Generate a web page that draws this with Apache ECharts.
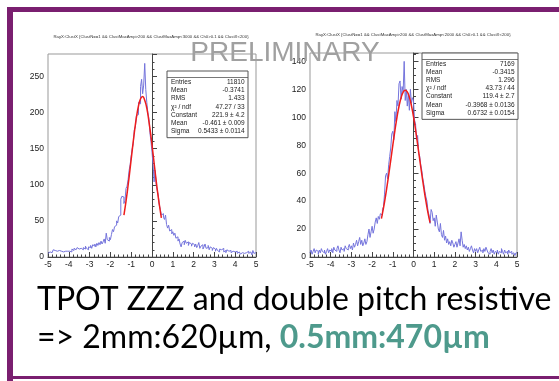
<!DOCTYPE html>
<html>
<head>
<meta charset="utf-8">
<script src="https://cdn.jsdelivr.net/npm/echarts@6/dist/echarts.min.js"></script>
<style>
  html, body { margin: 0; padding: 0; background: #fff; }
  #chart { width: 559px; height: 381px; }
</style>
</head>
<body>
<div id="chart"></div>
<script>
// bins of 0.05 from -5 to 5 (200 bins each)
const leftCounts = [
  5, 7, 9, 6, 8, 10, 9, 7, 8, 6, 9, 7, 8, 10, 7, 9, 8, 6, 8, 9,
  8, 10, 7, 11, 9, 12, 10, 8, 13, 11, 9, 12, 14, 10, 13, 11, 15, 12, 10, 14,
  13, 16, 12, 17, 15, 18, 14, 19, 16, 20, 17, 22, 18, 21, 25, 19, 33, 24, 22, 27,
  24, 31, 38, 35, 42, 44, 50, 47, 56, 58, 80, 84, 83, 74, 78, 95, 98, 107, 120, 128,
  140, 150, 157, 176, 180, 196, 197, 214, 212, 236, 246, 226, 238, 268, 232, 214, 200, 192, 172, 160,
  145, 128, 104, 120, 100, 92, 86, 72, 66, 58, 60, 55, 52, 58, 45, 40, 44, 36, 38, 32,
  35, 30, 33, 26, 28, 22, 25, 18, 14, 20, 22, 17, 23, 19, 21, 16, 20, 18, 15, 19,
  17, 14, 18, 13, 16, 20, 12, 15, 17, 11, 14, 18, 12, 13, 16, 10, 14, 12, 9, 13,
  11, 8, 12, 9, 7, 11, 10, 8, 12, 7, 9, 6, 10, 8, 7, 9, 6, 8, 10, 7,
  6, 8, 5, 7, 9, 4, 6, 8, 5, 7, 6, 4, 8, 5, 7, 6, 3, 9, 5, 6
];
const rightCounts = [
  3, 5, 2, 4, 6, 3, 5, 4, 2, 5, 3, 6, 4, 3, 5, 2, 4, 6, 3, 5,
  4, 6, 3, 7, 5, 4, 6, 8, 5, 3, 7, 5, 6, 4, 8, 6, 5, 7, 9, 6,
  8, 5, 10, 7, 9, 12, 8, 11, 14, 9, 12, 8, 10, 13, 9, 11, 16, 20, 14, 18,
  22, 17, 20, 25, 28, 24, 29, 27, 31, 30, 34, 36, 45, 58, 60, 56, 66, 72, 78, 88,
  90, 84, 104, 97, 112, 108, 124, 126, 113, 122, 118, 140, 112, 120, 108, 117, 105, 120, 110, 114,
  112, 98, 95, 84, 87, 74, 72, 66, 62, 56, 52, 47, 43, 40, 33, 30, 24, 34, 32, 26,
  28, 22, 30, 25, 20, 18, 24, 16, 14, 19, 12, 15, 10, 13, 9, 11, 8, 12, 10, 7,
  9, 11, 7, 10, 13, 8, 18, 12, 7, 9, 6, 8, 5, 7, 4, 6, 8, 5, 3, 6,
  4, 6, 3, 5, 7, 4, 5, 3, 6, 4, 7, 5, 3, 2, 4, 6, 3, 5, 2, 4,
  3, 5, 2, 4, 3, 6, 4, 2, 5, 3, 4, 2, 5, 3, 4, 2, 3, 4, 1, 3
];

// red fit curves
const leftFitX = [-1.35, -1.25, -1.15, -1.05, -0.95, -0.85, -0.75, -0.65, -0.55, -0.45, -0.35, -0.25, -0.15, -0.05, 0.05, 0.15, 0.25, 0.35, 0.45];
const leftFitY = [58, 77, 99, 123, 148, 172, 193, 209, 219, 222, 217, 206, 188, 167, 143, 118, 94, 73, 54];
const rightFitX = [-1.55, -1.5, -1.4, -1.3, -1.2, -1.1, -1.0, -0.9, -0.8, -0.7, -0.6, -0.5, -0.4, -0.3, -0.2, -0.1, 0, 0.1, 0.2, 0.3, 0.4, 0.5, 0.6, 0.7, 0.8];
const rightFitY = [27.5, 31.2, 39.3, 48.5, 58.6, 69.2, 79.9, 90.3, 99.8, 107.9, 114, 118, 119.4, 118.2, 114.4, 108.4, 100.4, 90.9, 80.6, 69.9, 59.3, 49.2, 39.9, 31.6, 24.6];

const leftStatNames = ['Entries', 'Mean', 'RMS', 'χ² / ndf', 'Constant', 'Mean', 'Sigma'];
const leftStatValues = ['11810', '-0.3741', '1.433', '47.27 / 33', '221.9 ± 4.2', '-0.461 ± 0.009', '0.5433 ± 0.0114'];
const rightStatNames = ['Entries', 'Mean', 'RMS', 'χ² / ndf', 'Constant', 'Mean', 'Sigma'];
const rightStatValues = ['7169', '-0.3415', '1.296', '43.73 / 44', '119.4 ± 2.7', '-0.3968 ± 0.0136', '0.6732 ± 0.0154'];

const leftTitle = 'RayX:ClustX {ClustN==1 && ClustMaxAmp>200 && ClustMaxAmp<3000 && Ch0>0.1 && ClustX<200}';
const rightTitle = 'RayX:ClustX {ClustN==1 && ClustMaxAmp>200 && ClustMaxAmp<2000 && Ch0>0.1 && ClustX<200}';

const purple = '#7a1f70';
const histColor = '#7474dc';
const fitColor = '#ee1c1c';

function histData(counts) {
  const d = counts.map((c, i) => [-5 + i * 0.05, c]);
  d.push([5, counts[counts.length - 1]]);
  return d;
}

function zip(xs, ys) {
  return xs.map((x, i) => [x, ys[i]]);
}

function statsBox(x, y, w, names, values, rowH) {
  const children = [];
  const h = 7 + names.length * rowH + 3;
  children.push({ type: 'rect', shape: { x: x, y: y, width: w, height: h }, style: { fill: '#fff', stroke: '#555', lineWidth: 1 } });
  children.push({ type: 'line', shape: { x1: x, y1: y + 6.5, x2: x + w, y2: y + 6.5 }, style: { stroke: '#555', lineWidth: 0.8 } });
  names.forEach((n, i) => {
    const ty = y + 11.5 + i * rowH;
    children.push({ type: 'text', style: { x: x + 4, y: ty, text: n, fill: '#222', font: '6.5px "Liberation Sans"', textVerticalAlign: 'middle' } });
    children.push({ type: 'text', style: { x: x + w - 3.5, y: ty, text: values[i], fill: '#222', font: '6.5px "Liberation Sans"', textAlign: 'right', textVerticalAlign: 'middle' } });
  });
  return { type: 'group', children: children, z: 100 };
}

function xAxisCfg(gridIndex) {
  return {
    type: 'value', gridIndex: gridIndex, min: -5, max: 5, interval: 1,
    axisLine: { onZero: false, lineStyle: { color: '#444', width: 1 } },
    axisTick: { inside: true, length: 5, lineStyle: { color: '#444' } },
    minorTick: { show: true, splitNumber: 5, length: 2.5, lineStyle: { color: '#444' } },
    splitLine: { show: false },
    axisLabel: { color: '#222', fontSize: 8.5, fontFamily: 'Liberation Sans', margin: 3 }
  };
}

function yAxisCfg(gridIndex, max, interval, minorSplit) {
  return {
    type: 'value', gridIndex: gridIndex, min: 0, max: max, interval: interval,
    axisLine: { show: true, lineStyle: { color: '#444', width: 1 } },
    axisTick: { inside: true, length: 5, lineStyle: { color: '#444' } },
    minorTick: { show: true, splitNumber: minorSplit, length: 2.5, lineStyle: { color: '#444' } },
    splitLine: { show: false },
    axisLabel: {
      color: '#222', fontSize: 8.5, fontFamily: 'Liberation Sans', margin: 4,
      formatter: v => (v % interval === 0 ? String(v) : '')
    }
  };
}

const chart = echarts.init(document.getElementById('chart'), null, { renderer: 'canvas' });

chart.setOption({
  animation: false,
  backgroundColor: '#fff',
  grid: [
    { left: 48, right: 303, top: 54, bottom: 124, show: true, borderColor: '#999', borderWidth: 1 },
    { left: 310, right: 42, top: 53, bottom: 124, show: true, borderColor: '#999', borderWidth: 1 }
  ],
  xAxis: [xAxisCfg(0), xAxisCfg(1)],
  yAxis: [yAxisCfg(0, 281, 50, 5), yAxisCfg(1, 146, 20, 4)],
  series: [
    {
      type: 'line', xAxisIndex: 0, yAxisIndex: 0, step: 'end', showSymbol: false,
      data: histData(leftCounts), lineStyle: { color: histColor, width: 1 }, z: 3
    },
    {
      type: 'line', xAxisIndex: 0, yAxisIndex: 0, smooth: true, showSymbol: false,
      data: zip(leftFitX, leftFitY), lineStyle: { color: fitColor, width: 1.5 }, z: 4
    },
    {
      type: 'line', xAxisIndex: 1, yAxisIndex: 1, step: 'end', showSymbol: false,
      data: histData(rightCounts), lineStyle: { color: histColor, width: 1 }, z: 3
    },
    {
      type: 'line', xAxisIndex: 1, yAxisIndex: 1, smooth: true, showSymbol: false,
      data: zip(rightFitX, rightFitY), lineStyle: { color: fitColor, width: 1.5 }, z: 4
    }
  ],
  graphic: [
    // slide frame
    { type: 'rect', shape: { x: 7, y: 7, width: 552, height: 5 }, style: { fill: purple } },
    { type: 'rect', shape: { x: 7, y: 7, width: 6, height: 374 }, style: { fill: purple } },
    { type: 'rect', shape: { x: 7, y: 376, width: 552, height: 3 }, style: { fill: purple } },
    // histogram titles
    { type: 'text', style: { x: 151, y: 37, text: leftTitle, fill: '#333', font: '4.3px "Liberation Sans"', textAlign: 'center', textVerticalAlign: 'middle' } },
    { type: 'text', style: { x: 413, y: 35, text: rightTitle, fill: '#333', font: '4.3px "Liberation Sans"', textAlign: 'center', textVerticalAlign: 'middle' } },
    statsBox(167, 71, 81, leftStatNames, leftStatValues, 8.1),
    statsBox(422, 53, 96, rightStatNames, rightStatValues, 8.05),
    {
      type: 'text', z: 200,
      style: { x: 285, y: 53, text: 'PRELIMINARY', fill: '#a0a0a0', font: '28px "Liberation Sans"', textAlign: 'center', textVerticalAlign: 'middle' }
    },
    {
      type: 'text',
      style: { x: 37, y: 300, text: 'TPOT ZZZ and double pitch resistive', fill: '#000', font: '32px Lato', textVerticalAlign: 'middle' }
    },
    {
      type: 'text',
      style: {
        x: 37, y: 338, text: '{a|=> 2mm:620µm, }{b|0.5mm:470µm}', textVerticalAlign: 'middle',
        rich: {
          a: { fill: '#000', font: '32px Lato' },
          b: { fill: '#4e9a8c', font: 'bold 32px Lato' }
        }
      }
    }
  ]
});
</script>
</body>
</html>
